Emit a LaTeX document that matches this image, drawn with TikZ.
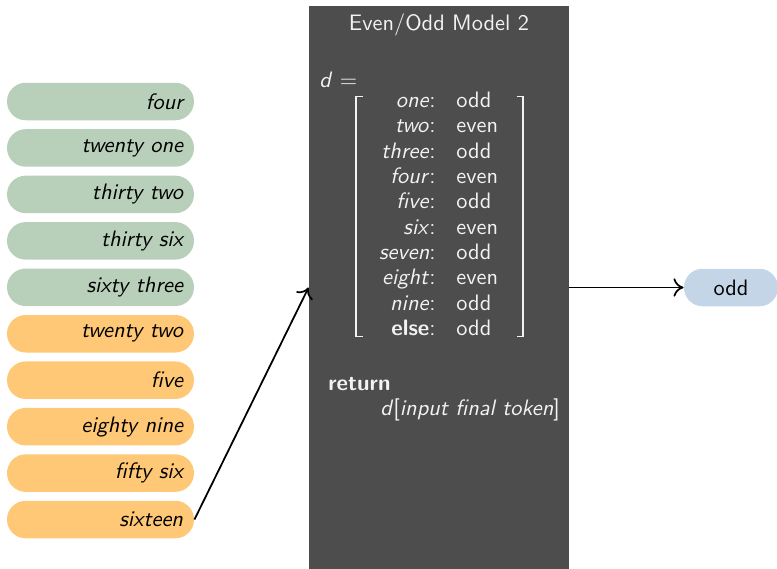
\documentclass[tikz,border=0pt]{standalone}
\usepackage{fontspec}
\usetikzlibrary{arrows.meta}

\definecolor{pillgreen}{HTML}{B8D0BA}
\definecolor{pillorange}{HTML}{FFC876}
\definecolor{pillblue}{HTML}{C4D5E8}
\definecolor{panel}{HTML}{4D4D4D}
\definecolor{ink}{HTML}{F2F2F2}

% one drawing unit
\def\pxu{0.4566pt}
\newcommand\basefont{\fontsize{10.2pt}{12pt}\selectfont\sffamily}

\begin{document}
\begin{tikzpicture}[x=\pxu, y=-\pxu, font=\basefont,
  token/.style={rectangle, rounded corners=8.5pt, minimum height=37.5*\pxu,
    text width=165*\pxu, inner xsep=11*\pxu, align=right, font=\basefont\itshape},
  answer/.style={rectangle, rounded corners=8.5pt, fill=pillblue,
    minimum width=94*\pxu, minimum height=37.5*\pxu},
  panelbox/.style={rectangle, fill=panel, minimum width=260*\pxu, minimum height=563*\pxu},
  paneltext/.style={text=ink, inner sep=0pt},
  bracket/.style={draw=ink, line width=0.75pt},
  flow/.style={-{Computer Modern Rightarrow[length=4.6pt,width=8.4pt]}, line width=0.8pt}]

\useasboundingbox (0,0) rectangle (777,569);

% input tokens
\foreach \t/\c [count=\i from 0] in {four/pillgreen, twenty one/pillgreen,
    thirty two/pillgreen, thirty six/pillgreen, sixty three/pillgreen,
    twenty two/pillorange, five/pillorange, eighty nine/pillorange,
    fifty six/pillorange, sixteen/pillorange}
  \node[token, fill=\c] (tok\i) at (100.5, 101.5+46.45*\i) {\t};

% model panel
\node[panelbox] (model) at (439, 287.5) {};
\node[paneltext, anchor=base] (title) at (439, 30.7) {Even/Odd Model 2};
\node[paneltext, anchor=base west] (dlhs) at (319, 87) {\textit{d} =};

\foreach \k/\v [count=\i from 0] in {\textit{one}/odd, \textit{two}/even,
    \textit{three}/odd, \textit{four}/even, \textit{five}/odd, \textit{six}/even,
    \textit{seven}/odd, \textit{eight}/even, \textit{nine}/odd, \textbf{else}/odd}
{
  \node[paneltext, anchor=base east] (key\i) at (436, 107.5+25.33*\i) {\k:};
  \node[paneltext, anchor=base west] (val\i) at (456, 107.5+25.33*\i) {\v};
}

\draw[bracket] (363,96.5) -- (355.7,96.5) -- (355.7,336.5) -- (363,336.5);
\draw[bracket] (516.5,96.5) -- (523,96.5) -- (523,336.5) -- (516.5,336.5);

\node[paneltext, anchor=base west] (ret) at (328, 390.7) {\textbf{return}};
\node[paneltext, anchor=base west] (lookup) at (380, 415)
  {\textit{d}[\textit{input final token}]};

% output
\node[answer] (out) at (731, 287.5) {odd};

\draw[flow] (tok9.east) -- (model.west);
\draw[flow] (model.east) -- (out.west);
\end{tikzpicture}
\end{document}
